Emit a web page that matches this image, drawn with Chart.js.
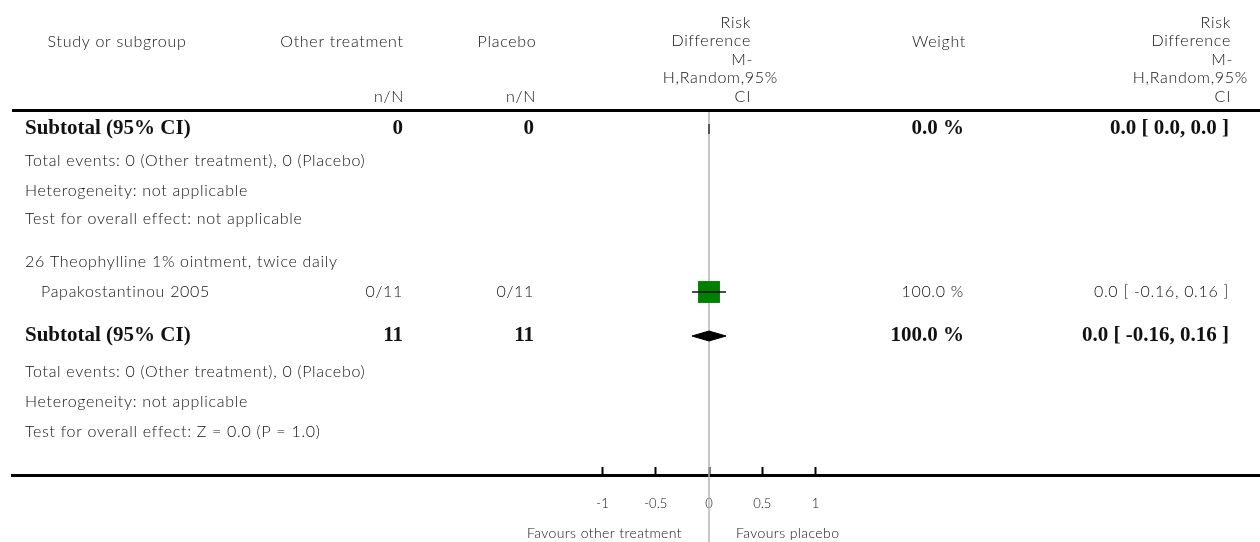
<!DOCTYPE html>
<html>
<head>
<meta charset="utf-8">
<script src="https://cdn.jsdelivr.net/npm/chart.js@4/dist/chart.umd.min.js"></script>
<style>
  body { margin: 0; background: #fff; }
  canvas { display: block; }
</style>
</head>
<body>
<canvas id="forest" width="1260" height="542"></canvas>
<script>
// study level data
const studyNames = ['Papakostantinou 2005'];
const otherEvents = [0];
const otherTotals = [11];
const placeboEvents = [0];
const placeboTotals = [11];
const studyRD = [0.0];
const studyLow = [-0.16];
const studyHigh = [0.16];
const studyWeights = [100.0];

// subtotals (first one belongs to a subgroup with no studies)
const subtotalOther = [0, 11];
const subtotalPlacebo = [0, 11];
const subtotalWeights = [0.0, 100.0];
const subtotalRD = [0.0, 0.0];
const subtotalLow = [0.0, -0.16];
const subtotalHigh = [0.0, 0.16];
const totalEventsText = ['Total events: 0 (Other treatment), 0 (Placebo)', 'Total events: 0 (Other treatment), 0 (Placebo)'];
const heterogeneityText = ['Heterogeneity: not applicable', 'Heterogeneity: not applicable'];
const overallEffectText = ['Test for overall effect: not applicable', 'Test for overall effect: Z = 0.0 (P = 1.0)'];
const groupTitle = '26 Theophylline 1% ointment, twice daily';

// axis
const tickValues = [-1, -0.5, 0, 0.5, 1];
const tickLabels = ['-1', '-0.5', '0', '0.5', '1'];
const favoursLeft = 'Favours other treatment';
const favoursRight = 'Favours placebo';

// ---- layout (row offsets below the header rule, in px) ----
const rows = {
  sub1: 21, events1: 53, het1: 83, test1: 111,
  group: 154, study: 184,
  sub2: 228, events2: 264, het2: 294, test2: 324
};
const diamondHalf = 5;
const xMin = -6.545, xMax = 5.174;

const fmt = v => (v === 0 ? '0.0' : String(v));
const ciText = (e, l, h) => fmt(e) + ' [ ' + fmt(l) + ', ' + fmt(h) + ' ]';

function diamond(e, l, h, y) {
  return [{x: l, y: y}, {x: e, y: y - diamondHalf}, {x: h, y: y}, {x: e, y: y + diamondHalf}, {x: l, y: y}];
}

const LIGHT = '300 16px Lato';
const BOLD = 'bold 21px "Liberation Serif"';

function put(ctx, s, x, y, align, font, spacing) {
  ctx.font = font;
  ctx.letterSpacing = spacing || '0px';
  ctx.textAlign = align;
  ctx.textBaseline = 'middle';
  ctx.fillText(s, x, y);
}
const light = (ctx, s, x, y, align) => put(ctx, s, x, y, align, LIGHT, '0.7px');
const bold = (ctx, s, x, y, align) => put(ctx, s, x, y, align, BOLD, '0px');

const tablePlugin = {
  id: 'forestTable',
  beforeDatasetsDraw(chart) {
    const ctx = chart.ctx, xs = chart.scales.x, a = chart.chartArea;
    ctx.save();
    // line of no effect
    const x0 = xs.getPixelForValue(0);
    ctx.strokeStyle = '#b4b4b4';
    ctx.lineWidth = 1.5;
    ctx.beginPath();
    ctx.moveTo(x0, a.top + 4);
    ctx.lineTo(x0, chart.height);
    ctx.stroke();
    // header rule
    ctx.strokeStyle = '#000';
    ctx.lineWidth = 3;
    ctx.beginPath();
    ctx.moveTo(a.left, a.top + 2.5);
    ctx.lineTo(a.right, a.top + 2.5);
    ctx.stroke();
    ctx.restore();
  },
  afterDraw(chart) {
    const ctx = chart.ctx, xs = chart.scales.x, ys = chart.scales.y;
    const Y = k => ys.getPixelForValue(rows[k]);
    ctx.save();
    ctx.fillStyle = '#111';

    // header
    light(ctx, 'Study or subgroup', 117, 42, 'center');
    light(ctx, 'Other treatment', 342, 42, 'center');
    light(ctx, 'Placebo', 507, 42, 'center');
    light(ctx, 'n/N', 404, 97, 'right');
    light(ctx, 'n/N', 536, 97, 'right');
    light(ctx, 'Weight', 939, 42, 'center');
    [[751, 778], [1231, 1248]].forEach(([r, r2]) => {
      light(ctx, 'Risk', r, 23, 'right');
      light(ctx, 'Difference', r, 41, 'right');
      light(ctx, 'M-', r + 2, 60, 'right');
      light(ctx, 'H,Random,95%', r2, 78, 'right');
      light(ctx, 'CI', r, 97, 'right');
    });

    const left = 25, c1 = 403, c2 = 534, cw = 964, crd = 1229;
    const subKeys = [['sub1', 'events1', 'het1', 'test1'], ['sub2', 'events2', 'het2', 'test2']];
    subKeys.forEach((k, i) => {
      bold(ctx, 'Subtotal (95% CI)', left, Y(k[0]), 'left');
      bold(ctx, String(subtotalOther[i]), c1, Y(k[0]), 'right');
      bold(ctx, String(subtotalPlacebo[i]), c2, Y(k[0]), 'right');
      bold(ctx, subtotalWeights[i].toFixed(1) + ' %', cw, Y(k[0]), 'right');
      bold(ctx, ciText(subtotalRD[i], subtotalLow[i], subtotalHigh[i]), crd, Y(k[0]), 'right');
      light(ctx, totalEventsText[i], left, Y(k[1]), 'left');
      light(ctx, heterogeneityText[i], left, Y(k[2]), 'left');
      light(ctx, overallEffectText[i], left, Y(k[3]), 'left');
    });

    light(ctx, groupTitle, left, Y('group'), 'left');
    studyNames.forEach((name, i) => {
      const y = Y('study');
      light(ctx, name, left + 16, y, 'left');
      light(ctx, otherEvents[i] + '/' + otherTotals[i], c1, y, 'right');
      light(ctx, placeboEvents[i] + '/' + placeboTotals[i], c2, y, 'right');
      light(ctx, studyWeights[i].toFixed(1) + ' %', cw, y, 'right');
      light(ctx, ciText(studyRD[i], studyLow[i], studyHigh[i]), crd, y, 'right');
    });

    // favours labels
    const x0 = xs.getPixelForValue(0);
    put(ctx, favoursLeft, x0 - 27, 533, 'right', '300 14px Lato', '0.4px');
    put(ctx, favoursRight, x0 + 27, 533, 'left', '300 14px Lato', '0.4px');
    ctx.restore();
  }
};

const ctx = document.getElementById('forest').getContext('2d');
const forest = new Chart(ctx, {
  type: 'scatter',
  data: {
    datasets: [
      {
        // study confidence interval, drawn over the square
        type: 'line',
        data: [{x: studyLow[0], y: rows.study}, {x: studyHigh[0], y: rows.study}],
        borderColor: 'rgba(0,0,0,0.7)',
        borderWidth: 2,
        pointRadius: 0,
        order: 0
      },
      {
        data: studyRD.map(v => ({x: v, y: rows.study})),
        pointStyle: 'rect',
        pointRadius: 15.5,
        backgroundColor: '#008000',
        borderWidth: 0,
        order: 1
      },
      {
        type: 'line',
        data: diamond(subtotalRD[0], subtotalLow[0], subtotalHigh[0], rows.sub1),
        borderColor: '#333',
        borderWidth: 1.5,
        backgroundColor: '#000',
        fill: 'shape',
        pointRadius: 0,
        order: 2
      },
      {
        type: 'line',
        data: diamond(subtotalRD[1], subtotalLow[1], subtotalHigh[1], rows.sub2),
        borderColor: '#000',
        borderWidth: 1,
        backgroundColor: '#000',
        fill: 'shape',
        pointRadius: 0,
        order: 2
      }
    ]
  },
  options: {
    responsive: false,
    animation: false,
    events: [],
    layout: { autoPadding: false, padding: { left: 12, right: 0, top: 108, bottom: 0 } },
    plugins: { legend: { display: false }, tooltip: { enabled: false } },
    scales: {
      x: {
        type: 'linear',
        min: xMin,
        max: xMax,
        afterFit: s => { s.height = 67; },
        afterBuildTicks: s => { s.ticks = tickValues.map(v => ({ value: v })); },
        border: { display: true, color: '#000', width: 3 },
        grid: { display: true, drawOnChartArea: false, drawTicks: true, tickLength: -8, tickWidth: 2, tickColor: '#000' },
        ticks: {
          autoSkip: false,
          maxRotation: 0,
          padding: 29,
          color: '#111',
          font: { family: 'Lato', size: 13, weight: '300' },
          callback: (v, i) => tickLabels[i]
        }
      },
      y: {
        type: 'linear',
        display: false,
        reverse: true,
        min: 0,
        max: 367
      }
    }
  },
  plugins: [tablePlugin]
});
</script>
</body>
</html>
